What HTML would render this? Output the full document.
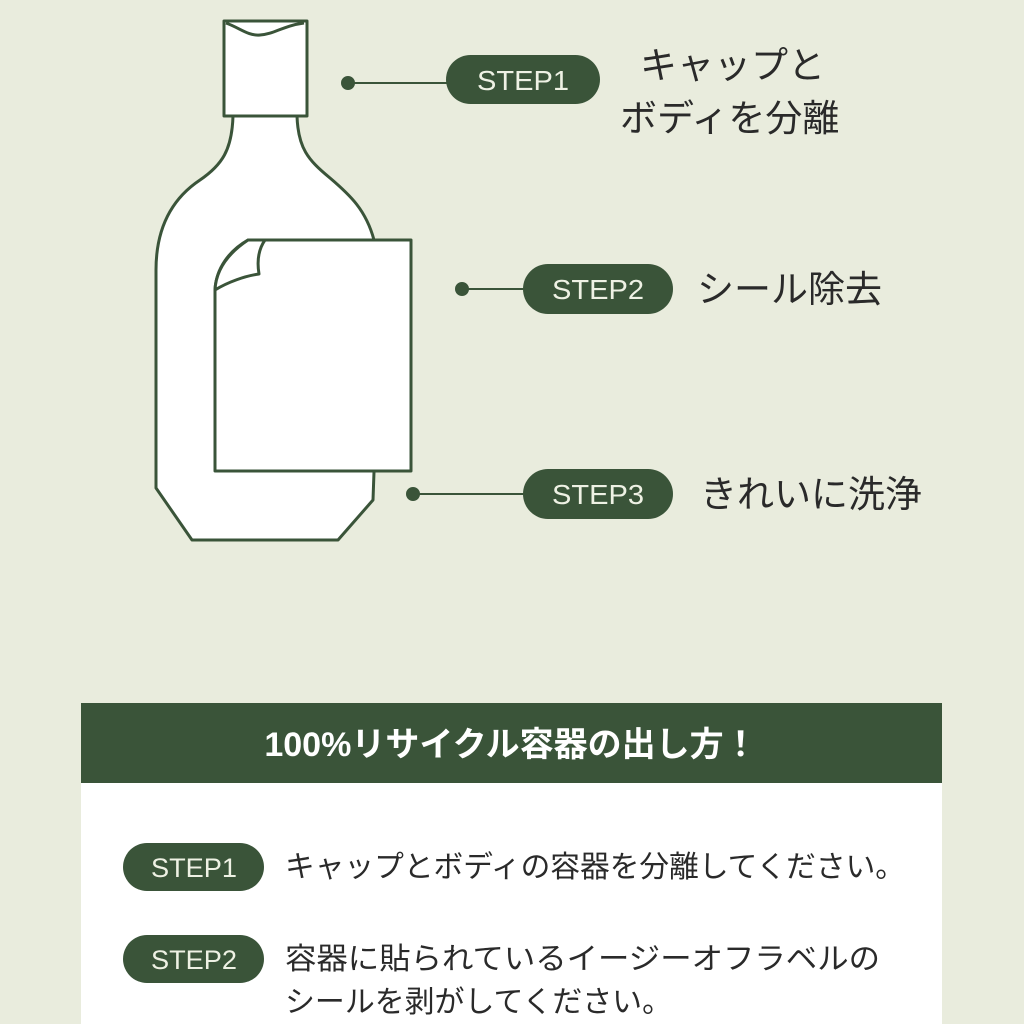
<!DOCTYPE html>
<html><head><meta charset="utf-8"><style>
html,body{margin:0;padding:0;background:#e9ecdd;}
svg{display:block;}
text{font-family:"Liberation Sans","Noto Sans CJK JP",sans-serif;}
</style></head><body>
<svg width="1024" height="1024" viewBox="0 0 1024 1024" xmlns="http://www.w3.org/2000/svg">
<rect width="1024" height="1024" fill="#e9ecdd"/>
<g stroke="#3a5439" stroke-width="3" fill="#fff" stroke-linejoin="round">
<path d="M233,116 C232,150 222,165 200,180 C170,200 156,230 156,270 L156,488 L192,540 L338,540 L373,500 L374,472 L374,240 C366,210 350,195 330,178 C308,160 298,148 297,116 Z"/>
<path d="M224,21 L307,21 L307,116 L224,116 Z"/>
<path d="M226,23 C240,28 248,36 260,35 C275,34 282,26 304,23" fill="none"/>
<path d="M248,240 L411,240 L411,471 L215,471 L215,290 C216,268 230,250 248,240 Z"/>
<path d="M265,240 C258,250 257,262 259,274 C245,276 228,282 215,290 C216,268 230,252 248,240 Z"/>
</g>
<g fill="#3a5439" stroke="#3a5439" stroke-width="2">
<circle cx="348" cy="83" r="6"/><line x1="348" y1="83" x2="450" y2="83"/>
<circle cx="462" cy="289" r="6"/><line x1="462" y1="289" x2="530" y2="289"/>
<circle cx="413" cy="494" r="6"/><line x1="413" y1="494" x2="530" y2="494"/>
</g>
<g fill="#3a5439">
<rect x="446" y="55" width="154" height="49" rx="24.5"/>
<rect x="523" y="264" width="150" height="50" rx="25"/>
<rect x="523" y="469" width="150" height="50" rx="25"/>
</g>
<g fill="#eef1e4" font-size="28" text-anchor="middle">
<text x="523" y="90" textLength="92" lengthAdjust="spacingAndGlyphs">STEP1</text>
<text x="598" y="299" textLength="92" lengthAdjust="spacingAndGlyphs">STEP2</text>
<text x="598" y="504" textLength="92" lengthAdjust="spacingAndGlyphs">STEP3</text>
</g>
<g fill="#2a2a2a" font-size="37">
<text x="640" y="78">キャップと</text>
<text x="620" y="131">ボディを分離</text>
<text x="697" y="302">シール除去</text>
<text x="700" y="507">きれいに洗浄</text>
</g>
<rect x="81" y="703" width="861" height="80" fill="#3a5439"/>
<rect x="81" y="783" width="861" height="241" fill="#fff"/>
<text x="511" y="756" font-size="34" font-weight="bold" fill="#fff" text-anchor="middle">100%リサイクル容器の出し方！</text>
<g fill="#3a5439">
<rect x="123" y="843" width="141" height="48" rx="24"/>
<rect x="123" y="935" width="141" height="48" rx="24"/>
</g>
<g fill="#eef1e4" font-size="27" text-anchor="middle">
<text x="194" y="877" textLength="86" lengthAdjust="spacingAndGlyphs">STEP1</text>
<text x="194" y="969" textLength="86" lengthAdjust="spacingAndGlyphs">STEP2</text>
</g>
<g fill="#2a2a2a" font-size="30">
<text x="285" y="877" textLength="620" lengthAdjust="spacingAndGlyphs">キャップとボディの容器を分離してください。</text>
<text x="285" y="969" textLength="595" lengthAdjust="spacingAndGlyphs">容器に貼られているイージーオフラベルの</text>
<text x="285" y="1012" textLength="387" lengthAdjust="spacingAndGlyphs">シールを剥がしてください。</text>
</g>
</svg>
</body></html>
